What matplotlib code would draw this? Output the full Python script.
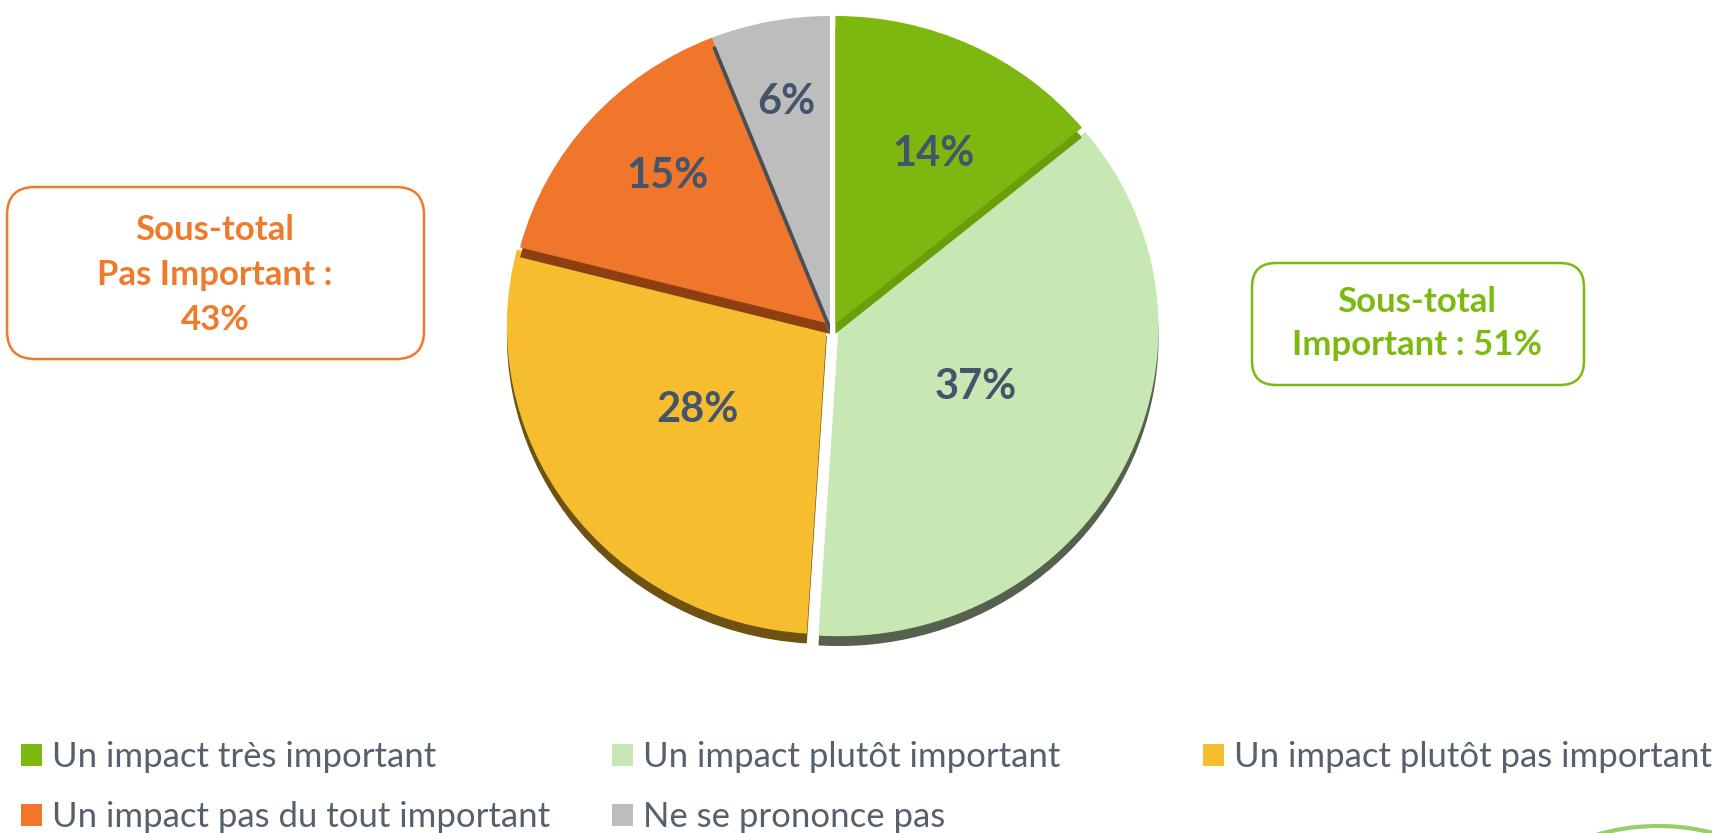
import numpy as np
import matplotlib.pyplot as plt
from matplotlib.patches import FancyBboxPatch, Arc

categories = ["Un impact très important", "Un impact plutôt important",
              "Un impact plutôt pas important", "Un impact pas du tout important",
              "Ne se prononce pas"]
values = [14, 37, 28, 15, 6]
colors = ["#7CB80F", "#C8E8B3", "#F6BE2F", "#EF762B", "#BDBDBD"]
shade_colors = ["#6A9F0B", "#55604F", "#6E5212", "#8E3F12", "#4A4F55"]
explode = [0.0, 0.03, 0.012, 0.0, 0.0]
nudge_x = [0.017, 0.0, 0.0, 0.0, 0.0]
# stacking order so upper slices show their edge over the ones below
layer = [2, 1, 1, 2, 3]

left_box = ["Sous-total", "Pas Important :", "43%"]
right_box = ["Sous-total", "Important : 51%"]

# label tweaks (distance from centre, angle offset in degrees)
lab_dist = [0.64, 0.50, 0.50, 0.70, 0.735]
lab_dang = [-5, 3, -2, -2, 0]

W, H = 1712, 833
fig = plt.figure(figsize=(W / 100, H / 100), dpi=100)

# pie axes: slightly flattened ellipse, centre ~ (830, 324) px
cx, cy, rx, ry = 830, 324, 320, 308
ax = fig.add_axes([(cx - 1.2 * rx) / W, (H - cy - 1.2 * ry) / H,
                   2.4 * rx / W, 2.4 * ry / H])

# "3d" edge drawn as a darker copy shifted down
shadows, _ = ax.pie(values, colors=shade_colors, startangle=90, counterclock=False,
                    explode=explode, center=(0, -0.032), frame=True,
                    wedgeprops=dict(linewidth=0))
wedges, _ = ax.pie(values, colors=colors, startangle=90, counterclock=False,
                   explode=explode, frame=True, wedgeprops=dict(linewidth=0))
for s, w, z, dx in zip(shadows, wedges, layer, nudge_x):
    s.set_zorder(2 * z)
    w.set_zorder(2 * z + 1)
    for p in (s, w):
        px, py = p.center
        p.set_center((px + dx, py))
ax.set_aspect("auto")
ax.set_xlim(-1.2, 1.2)
ax.set_ylim(-1.2, 1.2)
ax.axis("off")

for w, v, d, da in zip(wedges, values, lab_dist, lab_dang):
    th = np.deg2rad((w.theta1 + w.theta2) / 2 + da)
    ax.text(d * np.cos(th), d * np.sin(th), f"{v}%", zorder=10,
            ha="center", va="center", fontsize=30, fontweight="bold",
            color="#44546A", family="Lato")

# overlay in pixel coords for boxes / decoration
ov = fig.add_axes([0, 0, 1, 1], zorder=-1)
ov.set_xlim(0, W)
ov.set_ylim(H, 0)
ov.axis("off")

ov.add_patch(FancyBboxPatch((7, 187), 417, 172, boxstyle="round,pad=0,rounding_size=28",
                            fc="white", ec="#F07A2C", lw=1.8))
for i, t in enumerate(left_box):
    ov.text(215, 230 + i * 45, t, ha="center", va="center", fontsize=25,
            fontweight="bold", color="#F07A2C", family="Lato")

ov.add_patch(FancyBboxPatch((1252, 263), 332, 122, boxstyle="round,pad=0,rounding_size=24",
                            fc="white", ec="#7CBA0F", lw=1.8))
for i, t in enumerate(right_box):
    ov.text(1417, 302 + i * 43, t, ha="center", va="center", fontsize=25,
            fontweight="bold", color="#7CBA0F", family="Lato")

ov.add_patch(Arc((1658, 1046), 440, 440, theta1=180, theta2=360,
                 color="#7DC242", lw=3, alpha=0.8))

# legend entries on a fixed grid (3 columns, 2 rows)
col_x = [21, 612, 1203]
row_y = [757, 817]
for i, lab in enumerate(categories):
    x, y = col_x[i % 3], row_y[i // 3]
    fig.legend([wedges[i]], [lab], loc="center left",
               bbox_to_anchor=(x / W, 1 - y / H),
               frameon=False, borderpad=0, borderaxespad=0,
               handlelength=0.6, handleheight=0.6, handletextpad=0.3,
               prop=dict(family="Lato", size=25),
               labelcolor="#56616E")

fig.savefig("out.png", dpi=100)
